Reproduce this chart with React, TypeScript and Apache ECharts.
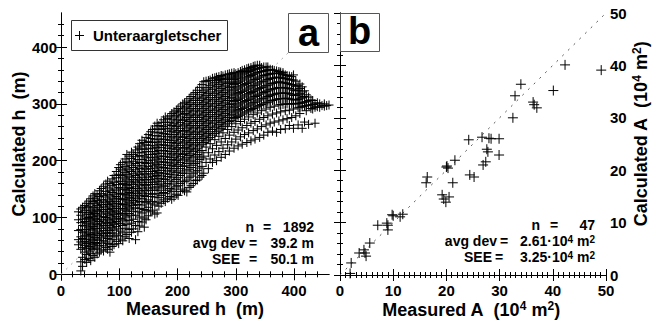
import React, { useEffect, useRef } from "react";
import * as echarts from "echarts";

// ---------- Panel a: measured vs calculated ice thickness h (m) ----------
// Measured h of each column of points, and the calculated h values read in that column.
const hColumnX = [
  30, 34, 37, 41, 44, 48, 51, 55, 58, 62, 66, 69, 73, 77, 80, 84, 88, 91, 95, 99,
  102, 106, 110, 113, 117, 121, 124, 128, 132, 135, 139, 143, 146, 150, 154, 157, 161, 165, 168, 172,
  176, 179, 183, 187, 190, 194, 198, 201, 205, 209, 212, 216, 220, 223, 227, 231, 234, 238, 242, 245,
  249, 253, 256, 260, 264, 267, 271, 275, 278, 282, 286, 289, 293, 297, 300, 304, 308, 311, 315, 319,
  322, 326, 330, 333, 337, 341, 344, 348, 352, 355, 359, 363, 366, 370, 374, 377, 381, 385, 388, 392,
  396, 399, 403, 407, 410, 414, 418, 421, 425, 429, 432, 436, 440, 444, 448, 452, 456, 460,
];
const hColumnY: number[][] = [
  [52, 61, 77, 96, 110],
  [6, 22, 44, 57, 66, 79, 91, 104, 115],
  [14, 30, 47, 55, 63, 74, 86, 97, 109, 118],
  [26, 39, 51, 58, 68, 76, 85, 93, 101, 112, 121],
  [21, 35, 45, 54, 61, 71, 79, 89, 98, 106, 117, 125],
  [28, 41, 49, 57, 66, 73, 83, 92, 100, 109, 119, 129],
  [24, 37, 46, 55, 62, 70, 80, 87, 96, 105, 113, 124, 133],
  [33, 44, 52, 60, 69, 78, 84, 94, 102, 110, 118, 128, 138],
  [30, 48, 56, 65, 73, 81, 90, 98, 107, 115, 125, 134, 142],
  [36, 45, 54, 62, 71, 80, 88, 96, 104, 112, 121, 130, 140],
  [39, 51, 60, 68, 76, 85, 93, 101, 110, 118, 127, 137, 147],
  [43, 55, 64, 72, 81, 89, 97, 106, 114, 123, 132, 142, 151],
  [41, 50, 59, 69, 77, 86, 94, 102, 111, 120, 129, 139, 155],
  [47, 57, 66, 74, 83, 91, 100, 108, 117, 126, 136, 146, 159],
  [44, 54, 63, 72, 80, 89, 97, 106, 114, 123, 131, 141, 152, 164],
  [39, 53, 68, 77, 86, 94, 103, 111, 120, 128, 138, 148, 160],
  [49, 61, 73, 82, 91, 99, 108, 116, 125, 134, 144, 156, 168],
  [52, 66, 78, 88, 96, 105, 113, 122, 131, 140, 150, 162, 174],
  [58, 71, 84, 93, 102, 111, 119, 128, 137, 147, 158, 170, 181],
  [54, 68, 80, 90, 99, 108, 116, 125, 134, 143, 153, 164, 176, 188],
  [62, 76, 89, 98, 107, 116, 124, 133, 142, 152, 163, 174, 185, 193],
  [59, 73, 86, 96, 106, 115, 123, 132, 141, 150, 160, 171, 182, 197],
  [66, 81, 94, 104, 113, 122, 131, 140, 149, 158, 168, 179, 190, 203],
  [70, 88, 101, 111, 120, 129, 138, 147, 156, 166, 176, 187, 198, 211],
  [63, 79, 95, 107, 117, 126, 135, 144, 153, 163, 173, 184, 196, 208],
  [74, 90, 104, 115, 124, 133, 142, 151, 161, 171, 181, 192, 204, 215],
  [80, 97, 111, 121, 130, 139, 148, 158, 167, 177, 188, 199, 211],
  [61, 86, 104, 117, 127, 136, 145, 154, 164, 174, 184, 195, 207, 219],
  [75, 93, 110, 123, 133, 142, 151, 161, 170, 180, 191, 202, 214, 224],
  [85, 101, 116, 128, 138, 147, 157, 166, 176, 186, 197, 209, 221, 230],
  [92, 108, 122, 133, 143, 152, 162, 171, 181, 191, 202, 214, 226, 236],
  [83, 99, 114, 128, 139, 148, 158, 167, 177, 187, 197, 208, 220, 232],
  [96, 112, 126, 137, 147, 156, 166, 175, 185, 195, 205, 216, 228, 241],
  [103, 118, 131, 142, 152, 162, 171, 181, 190, 200, 211, 222, 234, 246],
  [110, 124, 137, 148, 158, 167, 177, 186, 196, 206, 216, 227, 239, 251],
  [113, 128, 141, 152, 162, 172, 181, 191, 201, 211, 221, 232, 244, 255],
  [106, 122, 136, 148, 158, 168, 177, 187, 196, 206, 216, 226, 237, 249, 261],
  [108, 127, 142, 154, 164, 174, 183, 193, 203, 213, 223, 233, 244, 256, 266],
  [120, 135, 148, 159, 169, 179, 189, 198, 208, 218, 228, 238, 250, 262],
  [125, 139, 152, 163, 173, 183, 193, 203, 213, 223, 233, 243, 255, 267],
  [131, 144, 157, 168, 178, 188, 198, 208, 218, 228, 238, 248, 260, 272],
  [128, 142, 155, 167, 177, 187, 197, 207, 217, 227, 237, 247, 257, 268, 277],
  [134, 148, 160, 172, 182, 192, 202, 212, 222, 232, 242, 252, 263, 274],
  [137, 151, 164, 176, 186, 196, 206, 216, 226, 236, 246, 256, 267, 279],
  [132, 146, 159, 171, 182, 192, 202, 212, 222, 232, 242, 252, 262, 273, 283],
  [136, 150, 163, 175, 186, 196, 206, 216, 226, 236, 246, 256, 266, 277, 286],
  [141, 154, 167, 179, 190, 200, 210, 220, 230, 240, 250, 260, 270, 280, 289],
  [139, 156, 170, 182, 193, 203, 213, 223, 233, 243, 253, 263, 273, 284, 292],
  [146, 160, 174, 186, 197, 207, 217, 227, 237, 247, 257, 267, 277, 287, 296],
  [150, 164, 178, 190, 201, 211, 221, 231, 241, 251, 261, 271, 281, 291, 300],
  [147, 163, 178, 191, 203, 213, 223, 233, 243, 253, 263, 273, 283, 293, 302],
  [145, 166, 182, 195, 206, 216, 226, 236, 246, 256, 266, 276, 286, 296, 305],
  [153, 170, 185, 198, 209, 219, 229, 239, 249, 259, 269, 279, 289, 299, 309],
  [156, 173, 188, 201, 212, 222, 232, 242, 252, 262, 272, 282, 292, 302, 313],
  [160, 177, 192, 205, 216, 226, 236, 246, 256, 266, 276, 286, 296, 306, 317],
  [165, 180, 195, 208, 219, 229, 239, 249, 259, 269, 279, 289, 299, 309, 320],
  [166, 183, 198, 211, 222, 232, 242, 252, 262, 272, 282, 292, 302, 312, 324],
  [171, 187, 202, 215, 226, 236, 246, 256, 266, 276, 286, 296, 306, 316, 329],
  [174, 190, 205, 218, 229, 239, 249, 259, 269, 279, 289, 299, 309, 320, 334],
  [178, 208, 232, 242, 252, 262, 272, 282, 292, 302, 312, 323, 339],
  [197, 224, 235, 245, 255, 265, 275, 285, 295, 305, 315, 326, 340],
  [186, 214, 238, 248, 258, 268, 278, 288, 298, 308, 318, 329, 341],
  [203, 230, 241, 251, 261, 271, 281, 291, 301, 311, 321, 332, 342],
  [197, 221, 245, 255, 265, 275, 285, 295, 305, 315, 325, 335, 345],
  [210, 237, 248, 258, 268, 278, 288, 298, 308, 318, 328, 338, 346],
  [200, 227, 251, 261, 271, 281, 291, 301, 311, 321, 331, 341, 347],
  [216, 243, 254, 264, 274, 284, 294, 304, 314, 324, 334, 343, 348],
  [206, 233, 257, 267, 277, 287, 297, 307, 317, 327, 337, 345, 350],
  [222, 249, 260, 270, 280, 290, 300, 310, 320, 330, 340, 349],
  [211, 239, 263, 273, 283, 293, 303, 313, 323, 333, 343, 351],
  [228, 255, 266, 276, 286, 296, 306, 316, 326, 336, 345, 352],
  [217, 245, 269, 279, 289, 299, 309, 319, 329, 338, 347, 353],
  [233, 260, 271, 281, 291, 301, 311, 321, 331, 340, 349, 354],
  [222, 250, 274, 284, 294, 304, 314, 324, 334, 343, 351, 355],
  [238, 265, 276, 286, 296, 306, 316, 326, 336, 345, 353],
  [226, 254, 278, 288, 298, 308, 318, 328, 338, 347, 355],
  [242, 269, 280, 290, 300, 310, 320, 330, 340, 349, 357],
  [229, 258, 282, 292, 302, 312, 322, 332, 342, 351, 359],
  [246, 273, 284, 294, 304, 314, 324, 334, 344, 353, 360],
  [232, 262, 286, 296, 306, 316, 326, 336, 346, 355, 362],
  [249, 277, 288, 298, 308, 318, 328, 338, 348, 357, 363],
  [235, 266, 290, 300, 310, 320, 330, 340, 350, 359, 364],
  [253, 281, 292, 302, 312, 322, 332, 342, 352, 360, 366],
  [238, 269, 293, 303, 313, 323, 333, 343, 353, 361, 367],
  [256, 284, 295, 305, 315, 325, 335, 345, 355, 362, 368],
  [241, 273, 297, 307, 317, 327, 337, 347, 356, 363, 368],
  [260, 288, 299, 309, 319, 329, 339, 349, 357, 364],
  [245, 276, 300, 310, 320, 330, 340, 350, 358, 365],
  [263, 291, 302, 312, 322, 332, 342, 351, 359, 365],
  [250, 279, 303, 313, 323, 333, 343, 352, 360, 365],
  [266, 294, 305, 315, 325, 335, 345, 353, 361],
  [252, 282, 306, 316, 326, 336, 345, 353, 360],
  [268, 296, 307, 317, 327, 337, 346, 354, 359],
  [250, 284, 308, 318, 328, 338, 347, 354, 358],
  [270, 298, 309, 319, 329, 339, 347, 354, 357],
  [255, 286, 299, 309, 319, 329, 338, 346, 353, 356],
  [272, 299, 309, 319, 328, 337, 345, 352, 355],
  [256, 288, 300, 310, 319, 328, 337, 345, 351],
  [274, 300, 310, 319, 328, 336, 344, 350],
  [262, 289, 300, 309, 318, 327, 335, 343, 349],
  [276, 300, 308, 317, 326, 334, 342, 348],
  [257, 291, 300, 307, 315, 324, 333, 342, 351],
  [279, 300, 307, 315, 323, 331, 340],
  [263, 293, 301, 308, 316, 324, 332],
  [283, 294, 301, 309, 318, 327, 335],
  [257, 295, 302, 311, 321, 330],
  [268, 296, 303, 313, 323],
  [288, 297, 304, 316],
  [264, 298, 306, 312],
  [292, 298, 307],
  [291, 299, 306],
  [266, 294, 300],
  [295, 302],
  [294, 300],
  [297],
  [296, 300],
  [297],
  [298],
];

// ---------- Panel b: measured vs calculated area A (10^4 m^2) ----------
const areaMeasured = [
  42.3, 49.1, 34.0, 32.9, 40.1, 36.3, 37.0, 32.5, 24.2, 26.7, 28.4, 29.9, 27.8, 27.4, 26.9, 29.9,
  21.6, 20.1, 20.3, 24.4, 25.2, 16.4, 16.2, 21.2, 19.2, 20.5, 19.9, 9.8, 11.8, 11.3, 7.1, 9.0,
  9.0, 5.6, 3.6, 4.7, 4.9, 2.1, 1.9, 20.0, 27.6, 4.5, 8.8, 36.5, 19.5, 28.0, 10.0,
];
const areaCalculated = [
  40.1, 39.1, 36.4, 34.2, 35.2, 33.0, 31.9, 30.0, 25.8, 26.3, 26.0, 26.0, 23.5, 21.6, 21.0, 22.9,
  21.9, 20.8, 20.4, 19.1, 18.7, 18.7, 17.6, 17.6, 15.3, 14.9, 13.9, 11.5, 11.6, 11.1, 9.5, 9.5,
  8.6, 6.1, 4.2, 4.2, 3.6, 2.3, 0.3, 20.6, 24.0, 4.8, 9.9, 32.5, 14.5, 26.1, 11.3,
];

// ---------- Axis ticks ----------
const hMajorTicks = [0, 100, 200, 300, 400];
const hMinorTicks = [
  20, 40, 60, 80, 120, 140, 160, 180, 220, 240, 260, 280, 320, 340, 360, 380, 420, 440,
];
const hRange = { xMin: 0, xMax: 460, yMin: -10, yMax: 460 };

// ---------- Annotations ----------
const statLabels = ["n", "avg dev", "SEE"];
const statValuesH = ["1892", "39.2 m", "50.1 m"];
const statValuesA = ["47", "2.61·10{s|4} m{s|2}", "3.25·10{s|4} m{s|2}"];
const legendName = "Unteraargletscher";

const FONT = "'Liberation Sans', Arial, Helvetica, sans-serif";

export default function App() {
  const ref = useRef<HTMLDivElement>(null);

  useEffect(() => {
    document.body.style.margin = "0";
    if (!ref.current) return;
    const chart = echarts.init(ref.current, undefined, { renderer: "svg" });

    const hPoints: number[][] = [];
    hColumnX.forEach((x, i) => hColumnY[i].forEach((y) => hPoints.push([x, y])));
    const aPoints = areaMeasured.map((x, i) => [x, areaCalculated[i]]);

    const label = { fontSize: 15, fontWeight: "bold", color: "#000", fontFamily: FONT };
    const line = { show: true, lineStyle: { color: "#000", width: 1 } };
    const noLine = { show: false };

    const hAxis = (kind: "x" | "y", position: string, major: boolean, withLabels: boolean): any => ({
      type: "value",
      gridIndex: 0,
      position,
      min: kind === "x" ? hRange.xMin : hRange.yMin,
      max: kind === "x" ? hRange.xMax : hRange.yMax,
      axisLine: major ? line : noLine,
      axisTick: {
        show: true,
        inside: true,
        length: major ? 6 : 3,
        customValues: major ? hMajorTicks : hMinorTicks,
        lineStyle: { color: "#000", width: 1 },
      },
      axisLabel: withLabels
        ? { ...label, margin: kind === "x" ? 3 : 4, customValues: hMajorTicks }
        : { show: false },
      splitLine: { show: false },
    });

    const aAxis = (kind: "x" | "y", position: string, withLabels: boolean): any => ({
      type: "value",
      gridIndex: 1,
      position,
      min: 0,
      max: 50,
      interval: 10,
      axisLine: line,
      axisTick: { show: true, inside: true, length: 6, lineStyle: { color: "#000", width: 1 } },
      minorTick: {
        show: true,
        splitNumber: kind === "x" ? 10 : 5,
        length: 3,
        lineStyle: { color: "#000", width: 1 },
      },
      axisLabel: withLabels ? { ...label, margin: kind === "x" ? 8 : 4 } : { show: false },
      splitLine: { show: false },
      minorSplitLine: { show: false },
    });

    const txt = (
      x: number,
      y: number,
      text: string,
      align: string,
      fontSize = 14,
      extra: any = {}
    ): any => ({
      type: "text",
      x,
      y,
      z: 100,
      ...extra,
      style: {
        text,
        fontSize,
        fontWeight: "bold",
        fontFamily: FONT,
        fill: "#000",
        align,
        verticalAlign: "middle",
        lineHeight: fontSize >= 18 ? fontSize + 2 : 14,
        rich: {
          s: {
            fontSize: fontSize >= 18 ? 12 : 10,
            fontWeight: "bold",
            fontFamily: FONT,
            fill: "#000",
            verticalAlign: "top",
            lineHeight: fontSize >= 18 ? fontSize + 2 : 14,
          },
        },
      },
    });

    const statLayoutH = [
      { y: 227, labelRight: 254, eq: 267 },
      { y: 243, labelRight: 245, eq: 253 },
      { y: 259, labelRight: 240, eq: 253 },
    ];
    const statLayoutA = [
      { y: 225, labelRight: 540, eq: 554 },
      { y: 241, labelRight: 497, eq: 504 },
      { y: 257, labelRight: 492, eq: 499 },
    ];

    const graphics: any[] = [];
    statLabels.forEach((lab, i) => {
      const a = statLayoutH[i];
      graphics.push(txt(a.labelRight, a.y, lab, "right"));
      graphics.push(txt(a.eq, a.y, "=", "center"));
      graphics.push(txt(314, a.y, statValuesH[i], "right"));
      const b = statLayoutA[i];
      graphics.push(txt(b.labelRight, b.y, lab, "right"));
      graphics.push(txt(b.eq, b.y, "=", "center"));
      graphics.push(txt(595, b.y, statValuesA[i], "right"));
    });

    // legend box
    graphics.push({
      type: "rect",
      z: 100,
      shape: { x: 71.5, y: 20.5, width: 156, height: 30 },
      style: { fill: "#fff", stroke: "#333", lineWidth: 1 },
    });
    graphics.push({
      type: "line",
      z: 101,
      shape: { x1: 75, y1: 35.5, x2: 84, y2: 35.5 },
      style: { stroke: "#000", lineWidth: 1 },
    });
    graphics.push({
      type: "line",
      z: 101,
      shape: { x1: 79.5, y1: 31, x2: 79.5, y2: 40 },
      style: { stroke: "#000", lineWidth: 1 },
    });
    graphics.push(txt(93, 35, legendName, "left", 15, { z: 101 }));

    // panel letters
    graphics.push({
      type: "rect",
      z: 100,
      shape: { x: 288.5, y: 13.5, width: 40, height: 39 },
      style: { fill: "#fff", stroke: "#555", lineWidth: 1 },
    });
    graphics.push(txt(308.5, 33, "a", "center", 38, { z: 101 }));
    graphics.push({
      type: "rect",
      z: 100,
      shape: { x: 340.5, y: 13.5, width: 39, height: 38 },
      style: { fill: "#fff", stroke: "#555", lineWidth: 1 },
    });
    graphics.push(txt(359.5, 31, "b", "center", 38, { z: 101 }));

    // axis titles
    graphics.push(txt(195, 309, "Measured h\u00A0\u00A0(m)", "center", 18));
    graphics.push(txt(471, 310, "Measured A\u00A0\u00A0(10{s|4} m{s|2})", "center", 18));
    graphics.push(txt(19, 144, "Calculated h\u00A0\u00A0(m)", "center", 18, { rotation: Math.PI / 2 }));
    graphics.push(
      txt(641, 134, "Calculated A\u00A0\u00A0(10{s|4} m{s|2})", "center", 18, { rotation: Math.PI / 2 })
    );

    const plusSymbol = "path://M4,0V8M0,4H8";

    chart.setOption({
      animation: false,
      backgroundColor: "#fff",
      grid: [
        { left: 61, top: 13, width: 268, height: 267 },
        { left: 340, top: 13, width: 266, height: 262 },
      ],
      xAxis: [
        hAxis("x", "bottom", true, true),
        hAxis("x", "bottom", false, false),
        hAxis("x", "top", true, false),
        hAxis("x", "top", false, false),
        aAxis("x", "bottom", true),
        aAxis("x", "top", false),
      ],
      yAxis: [
        hAxis("y", "left", true, true),
        hAxis("y", "left", false, false),
        hAxis("y", "right", true, false),
        hAxis("y", "right", false, false),
        aAxis("y", "right", true),
        aAxis("y", "left", false),
      ],
      series: [
        {
          type: "line",
          xAxisIndex: 0,
          yAxisIndex: 0,
          data: [
            [hRange.xMin, 0],
            [hRange.xMax, hRange.xMax],
          ],
          symbol: "none",
          silent: true,
          z: 1,
          lineStyle: { color: "#aaa", width: 1, type: [2, 5] },
        },
        {
          type: "scatter",
          xAxisIndex: 0,
          yAxisIndex: 0,
          data: hPoints,
          symbol: plusSymbol,
          symbolSize: 9,
          z: 2,
          large: false,
          itemStyle: { color: "#000", borderColor: "#000", borderWidth: 1, opacity: 1 },
        },
        {
          type: "line",
          xAxisIndex: 4,
          yAxisIndex: 4,
          data: [
            [0, 0],
            [50, 50],
          ],
          symbol: "none",
          silent: true,
          z: 1,
          lineStyle: { color: "#555", width: 1, type: [2, 6] },
        },
        {
          type: "scatter",
          xAxisIndex: 4,
          yAxisIndex: 4,
          data: aPoints,
          symbol: plusSymbol,
          symbolSize: 10,
          z: 2,
          itemStyle: { color: "#000", borderColor: "#000", borderWidth: 1, opacity: 1 },
        },
      ],
      graphic: graphics,
    });

    return () => chart.dispose();
  }, []);

  return <div ref={ref} style={{ width: 652, height: 324 }} />;
}
